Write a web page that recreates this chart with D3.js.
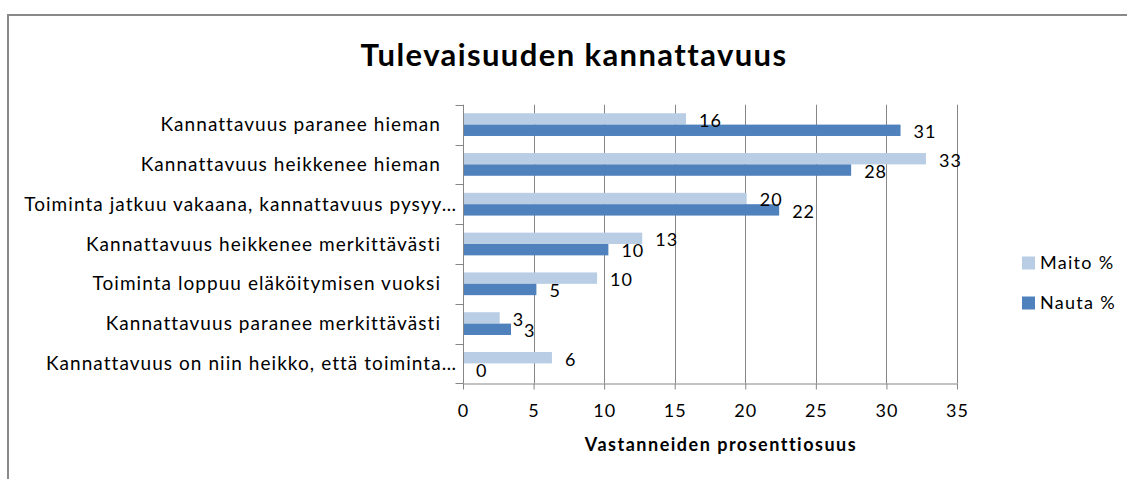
<!DOCTYPE html>
<html>
<head>
<meta charset="utf-8">
<script src="https://cdn.jsdelivr.net/npm/d3@7"></script>
<style>
    body { margin: 0; background: #fff; }
    svg { display: block; font-family: Lato, "Open Sans", sans-serif; }
</style>
</head>
<body>
<div id="chart"></div>
<script>
const categories = [
    "Kannattavuus paranee hieman",
    "Kannattavuus heikkenee hieman",
    "Toiminta jatkuu vakaana, kannattavuus pysyy…",
    "Kannattavuus heikkenee merkittävästi",
    "Toiminta loppuu eläköitymisen vuoksi",
    "Kannattavuus paranee merkittävästi",
    "Kannattavuus on niin heikko, että toiminta…"
];
const seriesNames = ["Maito %", "Nauta %"];
const maitoValues = [15.8, 32.8, 20.1, 12.7, 9.5, 2.6, 6.3];
const nautaValues = [31.0, 27.5, 22.4, 10.3, 5.2, 3.4, 0];
const xTicks = [0, 5, 10, 15, 20, 25, 30, 35];

const chart = {
    width: 1127,
    height: 479,
    colors: { "Maito %": "#b9cde5", "Nauta %": "#4f81bd" },

    init(container) {
        const svg = d3.select(container).append("svg")
            .attr("width", this.width)
            .attr("height", this.height);

        // outer chart frame (only left and top visible)
        svg.append("rect")
            .attr("x", 8).attr("y", 15)
            .attr("width", this.width + 20).attr("height", this.height + 20)
            .attr("fill", "#fff")
            .attr("stroke", "#898989")
            .attr("stroke-width", 2);

        svg.append("text")
            .attr("x", 574)
            .attr("y", 66)
            .attr("text-anchor", "middle")
            .style("font-size", "31px")
            .style("font-weight", "bold")
            .style("letter-spacing", "1.4px")
            .text("Tulevaisuuden kannattavuus");

        const plot = { left: 463, right: 957, top: 104.7, bottom: 383.3 };

        const x = d3.scaleLinear().domain([0, 35]).range([plot.left, plot.right]);
        const y = d3.scaleBand().domain(categories).range([plot.top, plot.bottom]);
        const ySeries = d3.scaleBand().domain(seriesNames)
            .range([0, y.bandwidth()])
            .paddingInner(0)
            .paddingOuter(0.75); // excel gap width 150%

        const rows = categories.map((c, i) => ({
            category: c,
            values: [
                { name: "Maito %", value: maitoValues[i] },
                { name: "Nauta %", value: nautaValues[i] }
            ]
        }));

        // vertical gridlines
        svg.append("g")
            .selectAll("line")
            .data(xTicks.slice(1))
            .join("line")
            .attr("x1", d => Math.round(x(d)) + 0.5)
            .attr("x2", d => Math.round(x(d)) + 0.5)
            .attr("y1", plot.top)
            .attr("y2", plot.bottom)
            .attr("stroke", "#868686");

        // bars
        const groups = svg.append("g")
            .selectAll("g")
            .data(rows)
            .join("g")
            .attr("transform", d => `translate(0,${y(d.category)})`);

        groups.selectAll("rect")
            .data(d => d.values)
            .join("rect")
            .attr("x", x(0))
            .attr("y", d => ySeries(d.name))
            .attr("width", d => x(d.value) - x(0))
            .attr("height", ySeries.bandwidth())
            .attr("fill", d => this.colors[d.name]);

        // data labels
        groups.selectAll("text")
            .data(d => d.values)
            .join("text")
            .attr("x", d => x(d.value) + 13)
            .attr("y", d => ySeries(d.name) + ySeries.bandwidth() / 2 + 1.5)
            .attr("dy", "0.35em")
            .style("font-size", "18px")
            .style("letter-spacing", "1px")
            .attr("fill", "#000")
            .text(d => Math.round(d.value));

        // x axis
        const xAxis = svg.append("g")
            .attr("transform", `translate(0,${Math.round(plot.bottom) + 0.5})`)
            .call(d3.axisBottom(x).tickValues(xTicks).tickSize(6).tickPadding(15).tickSizeOuter(0));
        xAxis.select(".domain").attr("stroke", "#868686");
        xAxis.selectAll(".tick line").attr("stroke", "#868686");
        xAxis.selectAll(".tick text")
            .attr("fill", "#000")
            .style("font-family", "Lato, sans-serif")
            .style("font-size", "18px")
            .style("letter-spacing", "1px");

        // y axis
        const yAxis = svg.append("g")
            .attr("transform", `translate(${Math.round(plot.left) + 0.5},0)`);
        yAxis.append("line")
            .attr("y1", plot.top).attr("y2", plot.bottom)
            .attr("stroke", "#868686");
        yAxis.selectAll(".cat-tick")
            .data(d3.range(categories.length + 1))
            .join("line")
            .attr("class", "cat-tick")
            .attr("x1", -8).attr("x2", 0)
            .attr("y1", i => Math.round(plot.top + i * y.step()) + 0.5)
            .attr("y2", i => Math.round(plot.top + i * y.step()) + 0.5)
            .attr("stroke", "#868686");

        svg.append("g")
            .selectAll("text")
            .data(categories)
            .join("text")
            .attr("x", d => d.endsWith("…") ? 457 : 441)
            .attr("y", d => y(d) + y.bandwidth() / 2)
            .attr("dy", "0.35em")
            .attr("text-anchor", "end")
            .style("font-size", "19px")
            .style("letter-spacing", "1.05px")
            .text(d => d);

        svg.append("text")
            .attr("x", 721)
            .attr("y", 451)
            .attr("text-anchor", "middle")
            .style("font-size", "18px")
            .style("font-weight", "bold")
            .style("letter-spacing", "1.5px")
            .text("Vastanneiden prosenttiosuus");

        // legend
        const legend = svg.append("g")
            .selectAll("g")
            .data(seriesNames)
            .join("g")
            .attr("transform", (d, i) => `translate(1022,${263 + i * 40})`);
        legend.append("rect")
            .attr("x", 0).attr("y", -6.5)
            .attr("width", 13).attr("height", 13)
            .attr("fill", d => this.colors[d]);
        legend.append("text")
            .attr("x", 18)
            .attr("dy", "0.35em")
            .style("font-size", "18px")
            .style("letter-spacing", "1.3px")
            .text(d => d);
    }
};

chart.init(document.getElementById("chart"));
</script>
</body>
</html>
